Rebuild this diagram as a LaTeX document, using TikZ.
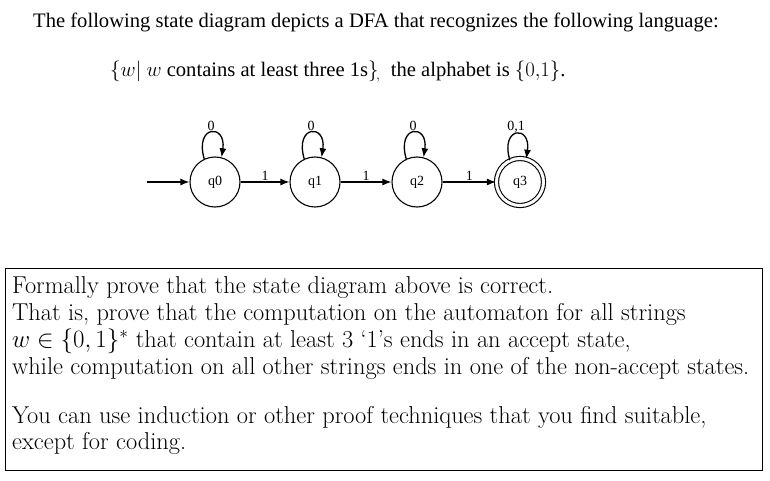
\documentclass[tikz,border=0pt]{standalone}
\usepackage{fontspec}
\usepackage{amsmath,amssymb}
\newfontfamily\tnr{Liberation Serif}
\usetikzlibrary{arrows.meta}
\begin{document}
\begin{tikzpicture}[x=1pt,y=-1pt,
  st/.style={circle,draw,line width=1.1pt,minimum size=50pt,inner sep=0pt,font=\tnr\fontsize{14}{16}\selectfont},
  acc/.style={st,double,double distance=3pt,minimum size=47pt},
  tr/.style={-{Latex[length=9pt,width=7pt]},line width=1.3pt},
  lbl/.style={font=\tnr\fontsize{14}{16}\selectfont,inner sep=1pt},
  txt/.style={anchor=west,inner sep=0pt},
  bt/.style={txt,font=\fontsize{24.4}{26}\selectfont}]
\useasboundingbox (0,0) rectangle (770,481);
\node[txt,font=\tnr\fontsize{20.6}{23}\selectfont] (t1) at (33,22) {The following state diagram depicts a DFA that recognizes the following language:};
\node[txt,font=\tnr\fontsize{20.6}{23}\selectfont] (t2) at (110,72) {$\{w|\ w$ contains at least three 1s$\}_{\!,}$\ \ the alphabet is $\{0{,}1\}$.};
\node[st] (q0) at (215,182) {q0};
\node[st] (q1) at (315,182) {q1};
\node[st] (q2) at (417,182) {q2};
\node[acc] (q3) at (520,182) {q3};
\coordinate (s) at (147,182);
\draw[tr] (s) -- (q0);
\draw[tr] (q0) -- node[lbl,above]{1} (q1);
\draw[tr] (q1) -- node[lbl,above]{1} (q2);
\draw[tr] (q2) -- node[lbl,above]{1} (q3);
\foreach \q/\l in {q0/0,q1/0,q2/0,q3/{0,1}}{
  \draw[tr] (\q.115) .. controls +(-10,-34) and +(5,-34) .. node[lbl,above]{\l} (\q.75);
}
\node[draw,line width=0.8pt,minimum width=757pt,minimum height=202pt,anchor=north west,inner sep=0pt] (box) at (5,268) {};
\node[bt] (b1) at (12,288) {Formally prove that the state diagram above is correct.};
\node[bt] (b2) at (12,314) {That is, prove that the computation on the automaton for all strings};
\node[bt] (b3) at (12,341) {$w\in\{0,1\}^*$ that contain at least 3 `1's ends in an accept state,};
\node[bt] (b4) at (12,368) {while computation on all other strings ends in one of the non-accept states.};
\node[bt] (b5) at (12,417) {You can use induction or other proof techniques that you find suitable,};
\node[bt] (b6) at (12,443) {except for coding.};
\end{tikzpicture}
\end{document}
